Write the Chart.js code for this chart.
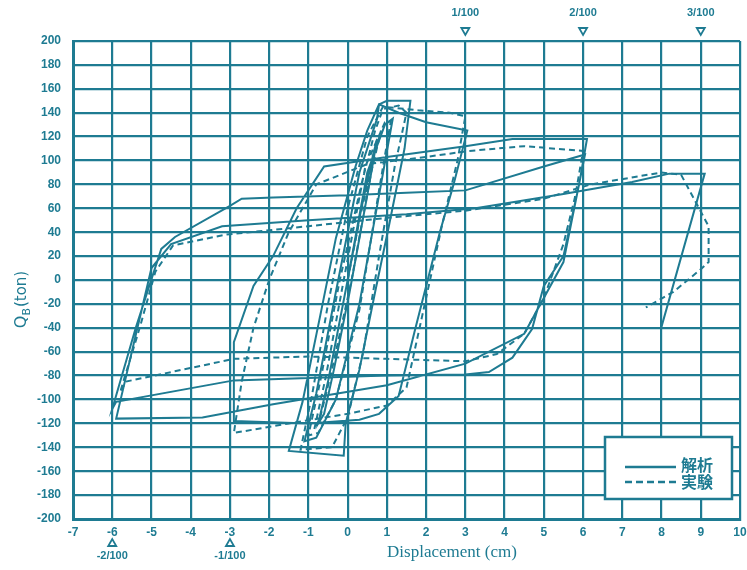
<!DOCTYPE html>
<html>
<head>
<meta charset="utf-8">
<script src="https://cdn.jsdelivr.net/npm/chart.js@4.4.0/dist/chart.umd.min.js"></script>
<style>
html,body{margin:0;padding:0;background:#fff;}
#wrap{width:747px;height:570px;position:relative;}
</style>
</head>
<body>
<div id="wrap"><canvas id="c" width="747" height="570"></canvas></div>
<script>
// ---- data (cm, ton) ----
const analysisX = [0,0.35,0.65,0.75,0.55,0.05,-0.35,-0.6,-0.75,-0.5,0.0,
  0.5,0.95,1.15,0.85,0.3,-0.3,-0.8,-1.1,-0.8,-0.3,0.3,
  0.75,0.8,1.0,1.6,1.45,1.05,0.7,0.3,-0.05,-0.1,-1.5,-1.15,-0.7,-0.3,0.2,0.5,0.8,
  1.3,2.0,3.05,2.7,2.35,1.7,1.3,0.8,0.3,-1.0,-2.9,
  -2.9,-2.4,-1.9,-1.3,-0.6,1.0,3.0,4.2,6.1,
  5.9,5.5,5.0,4.7,4.2,3.6,3.0,1.0,-1.0,-2.9,-5.9,-6.0,
  -5.4,-4.75,-4.4,-3.0,-2.7,-1.9,0,1.5,3.0,5.0,6.05,
  5.5,5.0,4.5,3.0,1.0,-1.9,-3.7,-5.9,
  -5.0,-4.5,-3.2,-1.0,1.5,3.26,5.5,7.25,8.2,9.1,
  8.0];
const analysisY = [0,60,105,118,80,-10,-75,-112,-120,-85,0,
  90,130,135,80,-20,-100,-132,-135,-95,-10,90,
  135,147,150,150,110,45,-10,-75,-120,-147,-143,-102,-30,35,95,125,147,
  140,132,125,80,40,-44,-97,-112,-117,-120,-118,
  -52,-5,20,60,95,103,112,118,118,
  80,20,-5,-41,-65,-77,-79,-80,-82,-84,-102,-108,
  -40,26,36,62,68,69,71,73,75,95,105,
  15,-15,-45,-70,-88,-104,-115,-116,
  10,30,45,50,55,60,72,82,89,89,
  -39];

const experimentX = [0,0.3,0.6,0.85,0.6,0.1,-0.4,-0.7,-0.85,-0.55,-0.1,
  0.45,0.95,1.1,0.8,0.3,-0.3,-0.75,-1.0,-0.7,-0.2,
  0.35,0.7,0.9,1.3,1.5,1.2,0.8,0.4,0,-0.4,-1.2,-0.9,-0.5,0,0.5,0.9,
  1.8,2.6,3.0,2.8,2.4,1.9,1.5,1.0,0,-1.5,-2.9,
  -2.7,-2.4,-2.0,-1.5,-0.8,0.5,2.0,3.1,4.5,6.0,
  5.8,5.5,5.0,4.5,3.8,3.0,1.0,-1.0,-2.9,-5.65,-5.8,
  -5.3,-4.9,-4.45,-3.1,-1.0,1.0,3.0,5.0,6.2,8.0,8.5,9.2,9.2,9.0,8.3,7.6];
const experimentY = [0,50,95,125,90,0,-75,-115,-125,-80,0,
  95,132,133,75,-25,-100,-128,-130,-85,0,
  80,125,143,146,140,95,20,-60,-115,-140,-142,-95,-20,60,120,145,
  142,140,137,100,45,-30,-90,-105,-112,-120,-128,
  -85,-40,0,40,80,97,103,108,112,108,
  70,30,-15,-45,-62,-68,-66,-64,-66,-85,-94,
  -40,7,29,38,45,52,58,68,80,90,88,45,15,9,-10,-23];

const xTicks = [-7,-6,-5,-4,-3,-2,-1,0,1,2,3,4,5,6,7,8,9,10];
const yTicks = [200,180,160,140,120,100,80,60,40,20,0,-20,-40,-60,-80,-100,-120,-140,-160,-180,-200];
const topMarkerPos = [3,6,9];
const topMarkerLabels = ['1/100','2/100','3/100'];
const bottomMarkerPos = [-6,-3];
const bottomMarkerLabels = ['-2/100','-1/100'];
const legendLabels = ['解析','実験'];

const TEAL = '#1e7b92';

function zip(xs, ys){ return xs.map((x,i)=>({x:x, y:ys[i]})); }

const markerPlugin = {
  id:'markers',
  afterDatasetsDraw(chart){
    const ctx = chart.ctx;
    ctx.save();
    const bx=605, by=437, bw=127, bh=62;
    ctx.fillStyle='#fff';
    ctx.fillRect(bx,by,bw,bh);
    ctx.strokeStyle=TEAL; ctx.lineWidth=2.5;
    ctx.strokeRect(bx,by,bw,bh);
    ctx.lineWidth=2.5;
    ctx.beginPath(); ctx.moveTo(625,467); ctx.lineTo(676,467); ctx.stroke();
    ctx.setLineDash([7,4]);
    ctx.beginPath(); ctx.moveTo(625,482); ctx.lineTo(676,482); ctx.stroke();
    ctx.setLineDash([]);
    ctx.fillStyle=TEAL;
    ctx.font='bold 16px "Noto Sans CJK JP"';
    ctx.textBaseline='middle'; ctx.textAlign='left';
    ctx.fillText(legendLabels[0],681,465);
    ctx.fillText(legendLabels[1],681,482);
    ctx.restore();
  },
  afterDraw(chart){
    const ctx = chart.ctx, xs = chart.scales.x;
    ctx.save();
    ctx.fillStyle=TEAL; ctx.strokeStyle=TEAL; ctx.lineWidth=1.8;
    ctx.font='bold 11px "Liberation Sans"';
    ctx.textAlign='center'; ctx.textBaseline='middle';
    topMarkerPos.forEach((v,i)=>{
      const px = xs.getPixelForValue(v);
      ctx.fillText(topMarkerLabels[i], px, 13);
      ctx.beginPath(); ctx.moveTo(px-4,28); ctx.lineTo(px+4,28); ctx.lineTo(px,35); ctx.closePath(); ctx.stroke();
    });
    bottomMarkerPos.forEach((v,i)=>{
      const px = xs.getPixelForValue(v);
      ctx.beginPath(); ctx.moveTo(px-4,546); ctx.lineTo(px+4,546); ctx.lineTo(px,539); ctx.closePath(); ctx.stroke();
      ctx.fillText(bottomMarkerLabels[i], px, 556);
    });
    ctx.font='17px "Liberation Serif"';
    ctx.fillText('Displacement (cm)', 452, 553);
    ctx.translate(22, 300);
    ctx.rotate(-Math.PI/2);
    ctx.textAlign='left';
    ctx.font='16px "DejaVu Sans"';
    const q='Q', wq=ctx.measureText(q).width;
    ctx.font='11px "DejaVu Sans"';
    const wb=ctx.measureText('B').width;
    ctx.font='15px "DejaVu Sans"';
    const wt=ctx.measureText('(ton)').width;
    const start=-(wq+wb+wt)/2;
    ctx.font='16px "DejaVu Sans"';
    ctx.fillText(q,start,0);
    ctx.font='11px "DejaVu Sans"';
    ctx.fillText('B',start+wq,5);
    ctx.font='15px "DejaVu Sans"';
    ctx.fillText('(ton)',start+wq+wb+1,0);
    ctx.restore();
  }
};

new Chart(document.getElementById('c'), {
  type:'scatter',
  data:{
    datasets:[
      {label:legendLabels[0], data:zip(analysisX,analysisY), showLine:true, borderColor:TEAL, borderWidth:2, pointRadius:0, tension:0, fill:false},
      {label:legendLabels[1], data:zip(experimentX,experimentY), showLine:true, borderColor:TEAL, borderWidth:2, borderDash:[6,4], pointRadius:0, tension:0, fill:false}
    ]
  },
  options:{
    responsive:false, animation:false,
    layout:{padding:{top:41,right:7,left:0,bottom:0}},
    plugins:{legend:{display:false}, tooltip:{enabled:false}},
    scales:{
      x:{
        type:'linear', min:-7, max:10,
        afterBuildTicks(s){ s.ticks = xTicks.map(v=>({value:v})); },
        afterFit(s){ s.height = 51; s.paddingRight = 0; s.paddingLeft = 0; },
        grid:{color:TEAL, lineWidth:2.2, drawTicks:false},
        border:{color:TEAL, width:3},
        ticks:{color:TEAL, padding:6, font:{family:'Liberation Sans', weight:'bold', size:12}, maxRotation:0, autoSkip:false}
      },
      y:{
        type:'linear', min:-200, max:200,
        afterBuildTicks(s){ s.ticks = yTicks.map(v=>({value:v})); },
        afterFit(s){ s.width = 73; s.paddingTop = 0; s.paddingBottom = 0; },
        grid:{color:TEAL, lineWidth:2.2, drawTicks:false},
        border:{color:TEAL, width:3},
        ticks:{color:TEAL, padding:12, font:{family:'Liberation Sans', weight:'bold', size:12}, autoSkip:false}
      }
    }
  },
  plugins:[markerPlugin]
});
</script>
</body>
</html>
